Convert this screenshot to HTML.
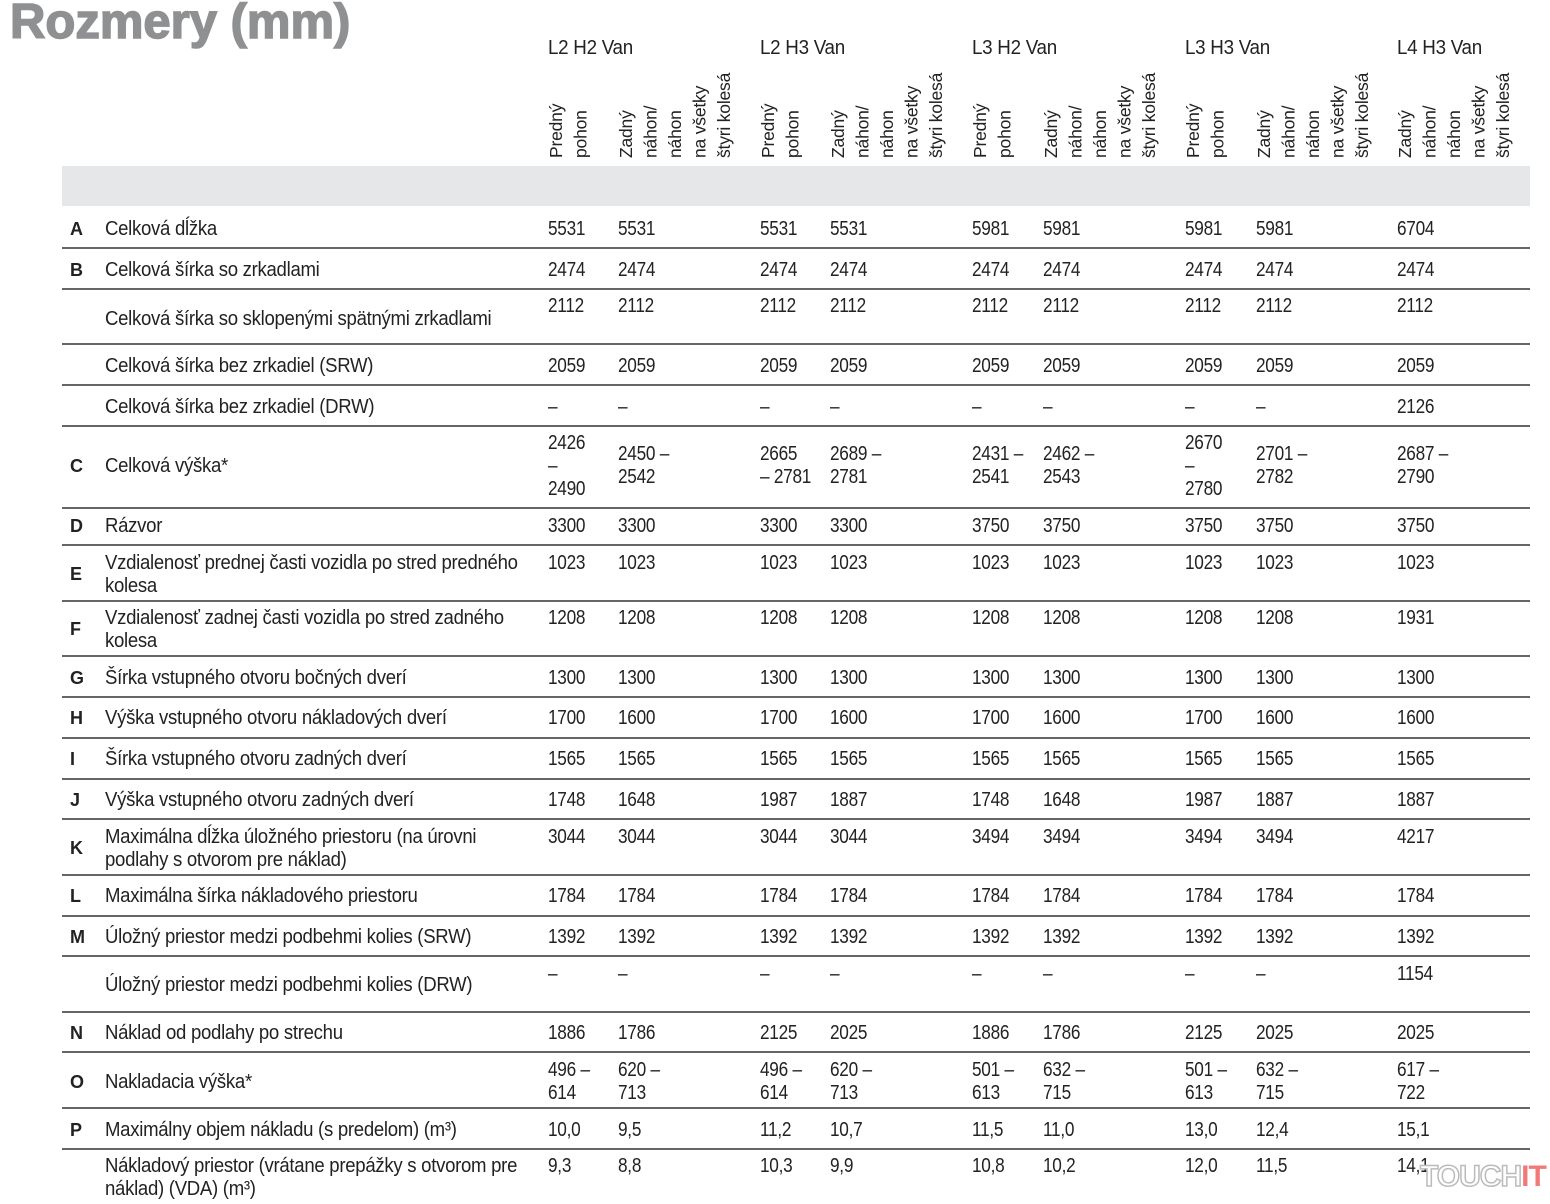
<!DOCTYPE html>
<html><head><meta charset="utf-8">
<style>
html,body{margin:0;padding:0;background:#fff;}
body{width:1550px;height:1204px;position:relative;overflow:hidden;font-family:"Liberation Sans Narrow","Liberation Sans",sans-serif;color:#222;font-size:20px;}
.t{position:absolute;line-height:23px;white-space:nowrap;letter-spacing:-0.3px;transform-origin:0 0;}
.lb{transform:scaleX(0.928);}
.n{transform:scaleX(0.86);}
.g{transform:scaleX(0.94);}
.L{font-weight:bold;font-family:"Liberation Sans",sans-serif;font-size:18px;}
.hr{position:absolute;left:62px;width:1468px;height:1.5px;background:#666;}
.v{position:absolute;writing-mode:vertical-rl;transform:rotate(180deg);line-height:24.5px;white-space:nowrap;font-size:17.5px;letter-spacing:-0.2px;}
h1{position:absolute;left:10px;top:-6px;margin:0;font-family:"Liberation Sans",sans-serif;font-weight:bold;font-size:49px;color:#8f9092;letter-spacing:0px;-webkit-text-stroke:1.5px #8f9092;}
</style></head><body>
<h1>Rozmery (mm)</h1>
<div style="position:absolute;left:62px;top:166px;width:1468px;height:40px;background:#e6e7e8"></div>
<div id="c"></div>
<div style="position:absolute;left:1420px;top:1160px;font-family:'Liberation Sans',sans-serif;font-weight:bold;font-size:30px;letter-spacing:-1px;color:#fff;-webkit-text-stroke:1.5px #bbb;">TOUCH<span style="color:#f07a7a;-webkit-text-stroke:0">IT</span></div>
<script>
var c=document.getElementById('c'),h='';
var X=[548,618,760,830,972,1043,1185,1256,1397];
var G=[[548,'L2 H2 Van'],[760,'L2 H3 Van'],[972,'L3 H2 Van'],[1185,'L3 H3 Van'],[1397,'L4 H3 Van']];
G.forEach(function(g){h+='<div class="t g" style="left:'+g[0]+'px;top:37px">'+g[1]+'</div>';});
var P='Predný<br>pohon',Z='Zadný<br>náhon/<br>náhon<br>na všetky<br>štyri kolesá';
[[548,P],[618,Z],[760,P],[830,Z],[972,P],[1043,Z],[1185,P],[1256,Z],[1397,Z]].forEach(function(v){
 h+='<div class="v" style="left:'+(v[0]-4)+'px;top:64px;height:94px;">'+v[1]+'</div>';});
[247,288,343,384,425,507,544,600,655,696,737,778,818,874,915,955,1011,1051,1107,1148].forEach(function(y){h+='<div class="hr" style="top:'+y+'px"></div>';});
function blk(x,cy,s,cls){s=String(s);var n=s.split('<br>').length;h+='<div class="t '+(cls||'')+'" style="left:'+x+'px;top:'+(cy+1-n*11.5)+'px">'+s+'</div>';}
function row(L,lab,ly,vals,vy){if(L)blk(70,ly,L,'L');blk(105,ly,lab,'lb');
 vals.forEach(function(v,i){if(v!=null)blk(X[i],vy,v,'n');});}
function same(v){return [v,v,v,v,v,v,v,v,v];}
var D='–';
row('A','Celková dĺžka',228,['5531','5531','5531','5531','5981','5981','5981','5981','6704'],228);
row('B','Celková šírka so zrkadlami',269,same('2474'),269);
row('','Celková šírka so sklopenými spätnými zrkadlami',318,same('2112'),305);
row('','Celková šírka bez zrkadiel (SRW)',365,same('2059'),365);
row('','Celková šírka bez zrkadiel (DRW)',406,[D,D,D,D,D,D,D,D,'2126'],406);
row('C','Celková výška*',465,['2426<br>–<br>2490','2450 –<br>2542','2665<br>– 2781','2689 –<br>2781','2431 –<br>2541','2462 –<br>2543','2670<br>–<br>2780','2701 –<br>2782','2687 –<br>2790'],465);
row('D','Rázvor',525,['3300','3300','3300','3300','3750','3750','3750','3750','3750'],525);
row('','Vzdialenosť prednej časti vozidla po stred predného<br>kolesa',573.5,same('1023'),562);
blk(70,573.5,'E','L');
row('','Vzdialenosť zadnej časti vozidla po stred zadného<br>kolesa',628.5,['1208','1208','1208','1208','1208','1208','1208','1208','1931'],617);
blk(70,628.5,'F','L');
row('G','Šírka vstupného otvoru bočných dverí',677,same('1300'),677);
row('H','Výška vstupného otvoru nákladových dverí',717,['1700','1600','1700','1600','1700','1600','1700','1600','1600'],717);
row('I','Šírka vstupného otvoru zadných dverí',758,same('1565'),758);
row('J','Výška vstupného otvoru zadných dverí',799,['1748','1648','1987','1887','1748','1648','1987','1887','1887'],799);
row('','Maximálna dĺžka úložného priestoru (na úrovni<br>podlahy s otvorom pre náklad)',847.5,['3044','3044','3044','3044','3494','3494','3494','3494','4217'],836);
blk(70,847.5,'K','L');
row('L','Maximálna šírka nákladového priestoru',895,same('1784'),895);
row('M','Úložný priestor medzi podbehmi kolies (SRW)',936,same('1392'),936);
row('','Úložný priestor medzi podbehmi kolies (DRW)',984,[D,D,D,D,D,D,D,D,'1154'],973);
row('N','Náklad od podlahy po strechu',1032,['1886','1786','2125','2025','1886','1786','2125','2025','2025'],1032);
row('O','Nakladacia výška*',1081,['496 –<br>614','620 –<br>713','496 –<br>614','620 –<br>713','501 –<br>613','632 –<br>715','501 –<br>613','632 –<br>715','617 –<br>722'],1080.5);
row('P','Maximálny objem nákladu (s predelom) (m³)',1129,['10,0','9,5','11,2','10,7','11,5','11,0','13,0','12,4','15,1'],1129);
row('','Nákladový priestor (vrátane prepážky s otvorom pre<br>náklad) (VDA) (m³)',1176.5,['9,3','8,8','10,3','9,9','10,8','10,2','12,0','11,5','14,1'],1165);
c.innerHTML=h;
</script>
</body></html>
